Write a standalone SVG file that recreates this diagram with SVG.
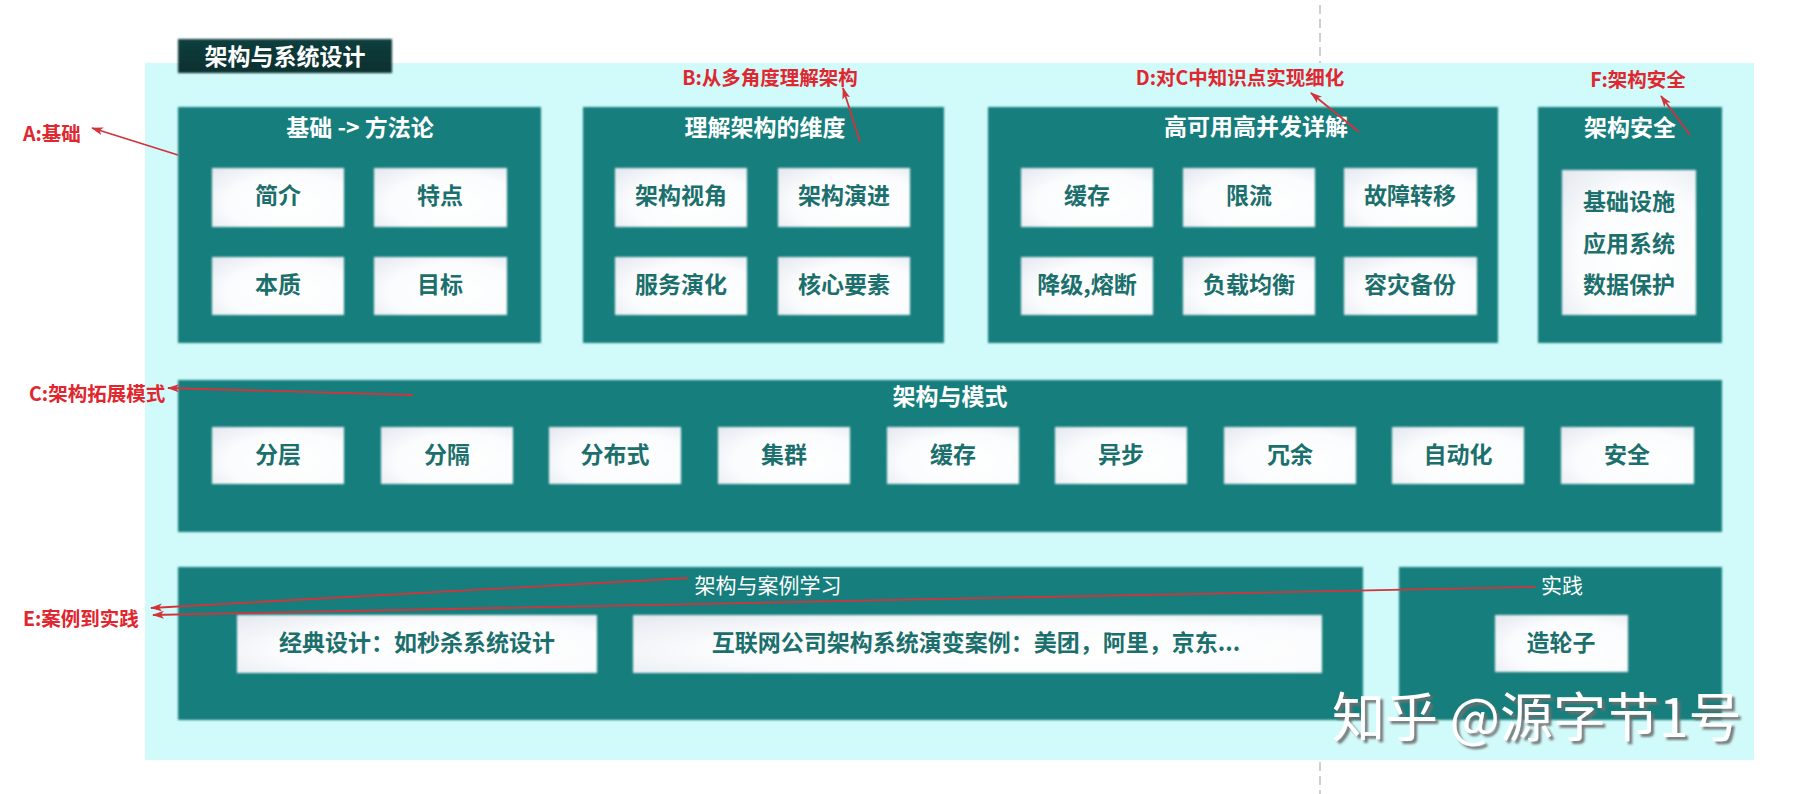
<svg xmlns="http://www.w3.org/2000/svg" width="1794" height="794" viewBox="0 0 1794 794">
<defs>
<style>
.teal{fill:#147e7b;filter:url(#soft)}
.inner{fill:url(#ig);filter:url(#soft)}
.t{font-family:"Noto Sans CJK SC","Noto Sans",sans-serif;dominant-baseline:central;text-anchor:middle}
.ttl{fill:#ffffff;font-size:23px;font-weight:700}
.ttl2{fill:#ffffff;font-size:21px;font-weight:400}
.it{fill:#1b6f6c;font-size:23px;font-weight:700}
.lbl{fill:#e0262e;font-size:19.5px;font-weight:700;font-family:"Noto Sans CJK SC","Noto Sans",sans-serif;dominant-baseline:central}
.ar{stroke:#d2343c;stroke-width:1.8;fill:none;marker-end:url(#ah)}
.wm{font-family:"Noto Sans CJK SC","Noto Sans",sans-serif;font-size:53px;fill:#ffffff}
</style>
<radialGradient id="ig" cx="0.6" cy="0.6" r="0.8">
<stop offset="0" stop-color="#ffffff"/>
<stop offset="0.6" stop-color="#fbfcfd"/>
<stop offset="1" stop-color="#e6eaf1"/>
</radialGradient>
<linearGradient id="tg" x1="0" y1="0" x2="0" y2="1">
<stop offset="0" stop-color="#123f3e"/>
<stop offset="1" stop-color="#0a2f2f"/>
</linearGradient>
<filter id="soft" x="-5%" y="-5%" width="110%" height="110%">
<feGaussianBlur stdDeviation="0.9"/>
</filter>
<filter id="ws" x="-10%" y="-20%" width="120%" height="150%">
<feDropShadow dx="3" dy="3" stdDeviation="1" flood-color="#6e6e6e" flood-opacity="0.9"/>
</filter>
<marker id="ah" markerWidth="12" markerHeight="8" refX="11" refY="4" orient="auto" markerUnits="userSpaceOnUse">
<path d="M0,0 L12,4 L0,8 L3,4 z" fill="#d2343c"/>
</marker>
</defs>
<rect width="1794" height="794" fill="#ffffff"/>
<g id="background">
<rect x="145" y="63" width="1609" height="697" fill="#d1fafa"/>
<line x1="1320" y1="5" x2="1320" y2="63" stroke="#b0b0b0" stroke-width="1.2" stroke-dasharray="9,5"/>
<line x1="1320" y1="762" x2="1320" y2="794" stroke="#b0b0b0" stroke-width="1.2" stroke-dasharray="9,5"/>
</g>
<g id="title">
<rect x="178" y="39" width="214" height="34" fill="url(#tg)" filter="url(#soft)"/>
<text class="t ttl" x="285" y="55" font-size="24">架构与系统设计</text>
</g>
<g id="box-basics">
<rect class="teal" x="178" y="107" width="363" height="236"/>
<text class="t ttl" x="360" y="126">基础 -&gt; 方法论</text>
<rect class="inner" x="212" y="168" width="132" height="59"/>
<text class="t it" x="278" y="194">简介</text>
<rect class="inner" x="374" y="168" width="133" height="59"/>
<text class="t it" x="440" y="194">特点</text>
<rect class="inner" x="212" y="257" width="132" height="58"/>
<text class="t it" x="278" y="283">本质</text>
<rect class="inner" x="374" y="257" width="133" height="58"/>
<text class="t it" x="440" y="283">目标</text>
</g>
<g id="box-dimensions">
<rect class="teal" x="583" y="107" width="361" height="236"/>
<text class="t ttl" x="765" y="126">理解架构的维度</text>
<rect class="inner" x="615" y="168" width="132" height="59"/>
<text class="t it" x="681" y="194">架构视角</text>
<rect class="inner" x="778" y="168" width="132" height="59"/>
<text class="t it" x="844" y="194">架构演进</text>
<rect class="inner" x="615" y="257" width="132" height="58"/>
<text class="t it" x="681" y="283">服务演化</text>
<rect class="inner" x="778" y="257" width="132" height="58"/>
<text class="t it" x="844" y="283">核心要素</text>
</g>
<g id="box-ha">
<rect class="teal" x="988" y="107" width="510" height="236"/>
<text class="t ttl" x="1256" y="125">高可用高并发详解</text>
<rect class="inner" x="1021" y="168" width="132" height="59"/>
<text class="t it" x="1087" y="194">缓存</text>
<rect class="inner" x="1183" y="168" width="132" height="59"/>
<text class="t it" x="1249" y="194">限流</text>
<rect class="inner" x="1344" y="168" width="133" height="59"/>
<text class="t it" x="1410" y="194">故障转移</text>
<rect class="inner" x="1021" y="257" width="132" height="58"/>
<text class="t it" x="1087" y="283">降级,熔断</text>
<rect class="inner" x="1183" y="257" width="132" height="58"/>
<text class="t it" x="1249" y="283">负载均衡</text>
<rect class="inner" x="1344" y="257" width="133" height="58"/>
<text class="t it" x="1410" y="283">容灾备份</text>
</g>
<g id="box-security">
<rect class="teal" x="1538" y="107" width="184" height="236"/>
<text class="t ttl" x="1630" y="126">架构安全</text>
<rect class="inner" x="1562" y="170" width="134" height="145"/>
<text class="t it" x="1629" y="200">基础设施</text>
<text class="t it" x="1629" y="242">应用系统</text>
<text class="t it" x="1629" y="283">数据保护</text>
</g>
<g id="box-patterns">
<rect class="teal" x="178" y="380" width="1544" height="152"/>
<text class="t ttl" x="950" y="395">架构与模式</text>
<rect class="inner" x="212" y="427" width="132" height="57"/>
<text class="t it" x="278" y="452.5">分层</text>
<rect class="inner" x="381" y="427" width="132" height="57"/>
<text class="t it" x="447" y="452.5">分隔</text>
<rect class="inner" x="549" y="427" width="132" height="57"/>
<text class="t it" x="615" y="452.5">分布式</text>
<rect class="inner" x="718" y="427" width="132" height="57"/>
<text class="t it" x="784" y="452.5">集群</text>
<rect class="inner" x="887" y="427" width="132" height="57"/>
<text class="t it" x="953" y="452.5">缓存</text>
<rect class="inner" x="1055" y="427" width="132" height="57"/>
<text class="t it" x="1121" y="452.5">异步</text>
<rect class="inner" x="1224" y="427" width="132" height="57"/>
<text class="t it" x="1290" y="452.5">冗余</text>
<rect class="inner" x="1392" y="427" width="132" height="57"/>
<text class="t it" x="1458" y="452.5">自动化</text>
<rect class="inner" x="1561" y="427" width="133" height="57"/>
<text class="t it" x="1627" y="452.5">安全</text>
</g>
<g id="box-cases">
<rect class="teal" x="178" y="567" width="1185" height="153"/>
<text class="t ttl2" x="768" y="584">架构与案例学习</text>
<rect class="inner" x="237" y="615" width="360" height="58"/>
<text class="t it" x="417" y="641">经典设计：如秒杀系统设计</text>
<rect class="inner" x="633" y="615" width="689" height="58"/>
<text class="t it" x="976" y="641">互联网公司架构系统演变案例：美团，阿里，京东...</text>
</g>
<g id="box-practice">
<rect class="teal" x="1399" y="567" width="323" height="153"/>
<text class="t ttl2" x="1562" y="584">实践</text>
<rect class="inner" x="1495" y="615" width="133" height="57"/>
<text class="t it" x="1561" y="641">造轮子</text>
</g>
<g id="connectors">
<line class="ar" x1="178" y1="155" x2="92" y2="128"/>
<line class="ar" x1="860" y1="142" x2="843" y2="88"/>
<line class="ar" x1="413" y1="395" x2="168" y2="388"/>
<line class="ar" x1="1359" y1="132" x2="1311" y2="93"/>
<line class="ar" x1="1690" y1="135" x2="1661" y2="96"/>
<line class="ar" x1="688" y1="578" x2="151" y2="608"/>
<line class="ar" x1="1535" y1="587" x2="153" y2="615"/>
</g>
<g id="labels">
<text class="lbl" x="23" y="132">A:基础</text>
<text class="lbl" x="770" y="76" text-anchor="middle">B:从多角度理解架构</text>
<text class="lbl" x="29" y="392">C:架构拓展模式</text>
<text class="lbl" x="1240" y="76" text-anchor="middle">D:对C中知识点实现细化</text>
<text class="lbl" x="23" y="617">E:案例到实践</text>
<text class="lbl" x="1638" y="78" text-anchor="middle">F:架构安全</text>
</g>
<g id="watermark">
<text class="wm" x="1332" y="737" filter="url(#ws)">知乎 @源字节1号</text>
</g>
</svg>
